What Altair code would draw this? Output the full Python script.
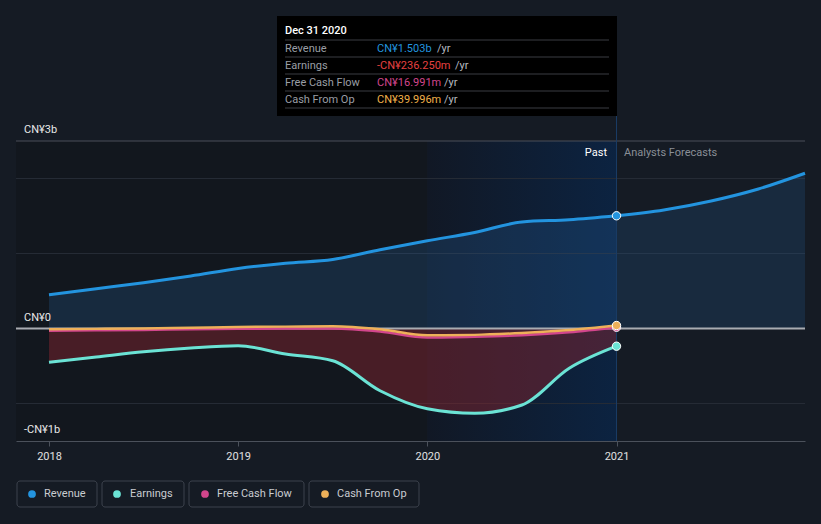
import altair as alt
import pandas as pd

# ---- data (CN¥ billions) ----
past_years = [2018.0, 2018.25, 2018.5, 2018.75, 2019.0, 2019.25, 2019.5, 2019.75,
              2020.0, 2020.25, 2020.5, 2020.75, 2021.0]
revenue_past = [0.45, 0.53, 0.61, 0.70, 0.80, 0.87, 0.92, 1.05, 1.17, 1.28, 1.42, 1.45, 1.503]
earnings_past = [-0.45, -0.38, -0.31, -0.26, -0.23, -0.34, -0.43, -0.83, -1.07, -1.13, -1.02, -0.53, -0.236]
fcf_past = [-0.03, -0.025, -0.02, -0.01, -0.005, 0.0, 0.0, -0.04, -0.12, -0.11, -0.09, -0.05, 0.017]
cfo_past = [-0.01, -0.005, 0.0, 0.01, 0.02, 0.025, 0.03, -0.01, -0.09, -0.085, -0.06, -0.02, 0.04]

fc_years = [2021.0, 2021.25, 2021.5, 2021.75, 2021.9964]
revenue_fc = [1.503, 1.58, 1.70, 1.86, 2.07]

year_ticks = [2018, 2019, 2020, 2021]
grid_vals = [2.0, 1.0, -1.0]
y_label_text = ["CN¥3b", "CN¥0", "-CN¥1b"]
y_label_vals = [2.5, 0.0, -1.5]

tip_title = "Dec 31 2020"
tip_names = ["Revenue", "Earnings", "Free Cash Flow", "Cash From Op"]
tip_values = ["CN¥1.503b", "-CN¥236.250m", "CN¥16.991m", "CN¥39.996m"]
tip_colors = ["#2394df", "#e64141", "#d2468c", "#f0b04a"]

series_names = ["Revenue", "Earnings", "Free Cash Flow", "Cash From Op"]
series_colors = ["#2394df", "#6be3d5", "#d2468c", "#eeb059"]

BG = "#151b24"
FONT = "Roboto"
W, H = 789, 300

xs = alt.Scale(domain=[2017.8256, 2021.9964], nice=False, zero=False)
ys = alt.Scale(domain=[-1.5, 2.5], nice=False, zero=False)
XAX = alt.Axis(values=year_ticks, format="d", title=None, grid=False,
               domainColor="#4b515b", tickColor="#4b515b", tickSize=5,
               labelColor="#e0e0e0", labelFontSize=11, labelFont=FONT, labelPadding=4)

past = pd.DataFrame({"t": past_years, "rev": revenue_past, "earn": earnings_past,
                     "fcf": fcf_past, "cfo": cfo_past, "zero": 0.0})
fc = pd.DataFrame({"t": fc_years, "rev": revenue_fc, "zero": 0.0})

def X(f="t"):
    return alt.X(f"{f}:Q", scale=xs, axis=XAX)

def Y(f):
    return alt.Y(f"{f}:Q", scale=ys, axis=None)

# background regions
regions = pd.DataFrame({"a": [2017.8256], "b": [2020.0]})
dark_rect = alt.Chart(regions).mark_rect(fill="#11151c", opacity=0.7).encode(
    x=X("a"), x2="b:Q", y=alt.value(0), y2=alt.value(H))

band = pd.DataFrame({"a": [2020.0], "b": [2021.0]})
band_rect = alt.Chart(band).mark_rect(
    fill=alt.Gradient(gradient="linear", x1=0, x2=1, y1=0, y2=0,
                      stops=[alt.GradientStop(color="#111825", offset=0),
                             alt.GradientStop(color="#0c2341", offset=1)])
).encode(x=X("a"), x2="b:Q", y=alt.value(0), y2=alt.value(H))

grid = alt.Chart(pd.DataFrame({"g": grid_vals})).mark_rule(color="#252b35", strokeWidth=1).encode(
    y=Y("g"), x=alt.value(0), x2=alt.value(W))
top_line = alt.Chart(pd.DataFrame({"g": [2.5]})).mark_rule(color="#4a4f59", strokeWidth=1).encode(
    y=Y("g"), x=alt.value(0), x2=alt.value(W))

rev_area_p = alt.Chart(past).mark_area(color="#2a6aa8", opacity=0.24, interpolate="monotone").encode(
    x=X(), y=Y("rev"), y2="zero:Q")
rev_area_f = alt.Chart(fc).mark_area(color="#2a6aa8", opacity=0.2, interpolate="monotone").encode(
    x=X(), y=Y("rev"), y2="zero:Q")
earn_area = alt.Chart(past).mark_area(color="#8a2530", opacity=0.46, interpolate="monotone").encode(
    x=X(), y=Y("earn"), y2="zero:Q")

zero_line = alt.Chart(pd.DataFrame({"g": [0.0]})).mark_rule(color="#a9acb1", strokeWidth=2).encode(
    y=Y("g"), x=alt.value(0), x2=alt.value(W))

vline = alt.Chart(pd.DataFrame({"t": [2021.0]})).mark_rule(color="#193b64", strokeWidth=1).encode(
    x=X(), y=alt.value(-25), y2=alt.value(H))

def line(df, f, color, w=2.5):
    return alt.Chart(df).mark_line(color=color, strokeWidth=w, interpolate="monotone").encode(
        x=X(), y=Y(f))

rev_line_p = line(past, "rev", series_colors[0], 3)
rev_line_f = line(fc, "rev", series_colors[0], 3)
earn_line = line(past, "earn", series_colors[1], 3)
fcf_line = line(past, "fcf", series_colors[2], 2.5)
cfo_line = line(past, "cfo", series_colors[3], 2.5)

last = pd.DataFrame({"t": [2021.0] * 4, "v": [revenue_past[-1], earnings_past[-1], fcf_past[-1], cfo_past[-1]],
                     "s": series_names})
pts = alt.Chart(last).mark_point(filled=True, size=70, stroke="white", strokeWidth=1, opacity=1).encode(
    x=X(), y=Y("v"),
    fill=alt.Fill("s:N", scale=alt.Scale(domain=series_names, range=series_colors), legend=None))

ylab = alt.Chart(pd.DataFrame({"v": y_label_vals, "s": y_label_text})).mark_text(
    align="left", baseline="alphabetic", dx=0, dy=-8, font=FONT, fontSize=11, color="#e8e8e8").encode(
    x=alt.value(8), y=Y("v"), text="s:N")

past_lbl = alt.Chart(pd.DataFrame({"s": ["Past"]})).mark_text(
    align="right", baseline="middle", font=FONT, fontSize=11, color="#ffffff").encode(
    x=alt.value(591), y=alt.value(12), text="s:N")
fc_lbl = alt.Chart(pd.DataFrame({"s": ["Analysts Forecasts"]})).mark_text(
    align="left", baseline="middle", font=FONT, fontSize=11, color="#8a8f97").encode(
    x=alt.value(608), y=alt.value(12), text="s:N")

# ---- tooltip box ----
tip_box = alt.Chart(pd.DataFrame({"a": [0]})).mark_rect(fill="#000000").encode(
    x=alt.value(261), x2=alt.value(601), y=alt.value(-125), y2=alt.value(-25))
row_y = [-92.5, -75.5, -58.5, -41.5]
sep_y = [-101, -84, -67, -50, -33]
tip_seps = alt.Chart(pd.DataFrame({"y": sep_y})).mark_rule(color="#3a3d42", strokeWidth=1).encode(
    y=alt.Y("y:Q", scale=None), x=alt.value(269), x2=alt.value(593))
tip_t = alt.Chart(pd.DataFrame({"s": [tip_title]})).mark_text(
    align="left", baseline="middle", font=FONT, fontSize=11, fontWeight=500, color="#ffffff").encode(
    x=alt.value(269), y=alt.value(-110), text="s:N")
tip_df = pd.DataFrame({"name": tip_names, "val": tip_values, "c": tip_colors, "y": row_y,
                       "yrx": [421, 439, 428, 428]})
tip_names_m = alt.Chart(tip_df).mark_text(align="left", baseline="middle", font=FONT, fontSize=11,
                                          color="#9a9ea5").encode(
    x=alt.value(269), y=alt.Y("y:Q", scale=None), text="name:N")
tip_vals_m = alt.Chart(tip_df).mark_text(align="left", baseline="middle", font=FONT, fontSize=11).encode(
    x=alt.value(361), y=alt.Y("y:Q", scale=None), text="val:N",
    color=alt.Color("c:N", scale=None))
tip_yr = alt.Chart(tip_df).mark_text(align="left", baseline="middle", font=FONT, fontSize=11,
                                     color="#b8bbc0", text="/yr").encode(
    x=alt.X("yrx:Q", scale=None), y=alt.Y("y:Q", scale=None))

# ---- legend ----
leg = pd.DataFrame({"name": series_names, "c": series_colors,
                    "x1": [1, 86, 173, 293], "x2": [81, 168, 288, 403],
                    "dx": [16, 101, 189, 309], "tx": [28, 114, 201, 321]})
leg_box = alt.Chart(leg).mark_rect(fill=BG, stroke="#3d434d", strokeWidth=1, cornerRadius=3).encode(
    x=alt.X("x1:Q", scale=None), x2="x2:Q", y=alt.value(340), y2=alt.value(366))
leg_dot = alt.Chart(leg).mark_circle(size=60, opacity=1).encode(
    x=alt.X("dx:Q", scale=None), y=alt.value(353), color=alt.Color("c:N", scale=None))
leg_txt = alt.Chart(leg).mark_text(align="left", baseline="middle", font=FONT, fontSize=11,
                                   color="#c9ccd1").encode(
    x=alt.X("tx:Q", scale=None), y=alt.value(353), text="name:N")

chart = alt.layer(
    dark_rect, band_rect, grid, top_line, rev_area_p, rev_area_f, earn_area, zero_line, vline,
    rev_line_p, rev_line_f, earn_line, fcf_line, cfo_line, pts,
    ylab, past_lbl, fc_lbl,
    tip_box, tip_seps, tip_t, tip_names_m, tip_vals_m, tip_yr,
    leg_box, leg_dot, leg_txt
).properties(
    width=W, height=H, autosize="none",
    padding={"left": 16, "top": 141, "right": 16, "bottom": 83},
    background=BG
).configure_view(stroke=None)

chart.save("out.html", embed_options={"renderer": "svg", "actions": False})
